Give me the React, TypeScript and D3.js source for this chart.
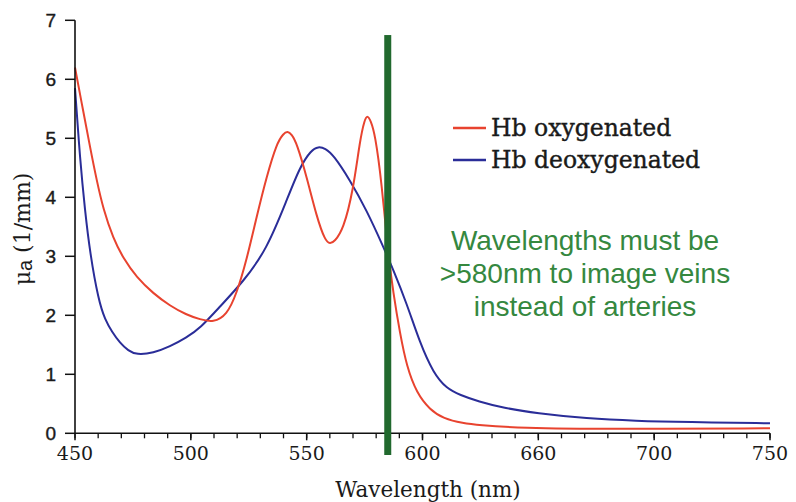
import React from "react";
import * as d3 from "d3";

const oxyWavelengths = [450, 453.6, 456.5, 459.4, 462.2, 466.5, 470.8, 476.6, 483.8, 491, 498, 504, 509.7, 515.5, 519.8, 524.1, 528.4, 532.7, 537.1, 540, 541.7, 543.5, 545.7, 550, 554.3, 558, 560.1, 562, 565.8, 570.1, 573, 575, 576.3, 577.6, 579.5, 582.4, 585, 587.4, 590.3, 593.2, 597.5, 603.2, 609, 617.6, 624, 642, 680, 750];
const oxyValues = [6.2, 5.45, 4.85, 4.28, 3.8, 3.3, 2.97, 2.64, 2.37, 2.16, 2.01, 1.93, 1.88, 2.0, 2.37, 2.94, 3.67, 4.35, 4.92, 5.08, 5.12, 5.07, 4.92, 4.35, 3.67, 3.26, 3.21, 3.25, 3.45, 4.12, 4.97, 5.32, 5.39, 5.3, 5.08, 4.24, 3.1, 2.37, 1.69, 1.13, 0.68, 0.4, 0.25, 0.17, 0.14, 0.09, 0.07, 0.085];

const deoxyWavelengths = [450, 452.2, 454.3, 456.5, 460.1, 463, 466, 469.4, 473, 476.6, 483.8, 491, 498, 504, 512.6, 522.6, 532.7, 541.4, 547.1, 552, 555, 558, 561.5, 568.7, 575.9, 583.1, 587.4, 593.2, 598.9, 604.7, 610.4, 616.2, 624.1, 635, 649, 671, 692, 714, 750];
const deoxyValues = [5.85, 4.63, 3.78, 3.05, 2.26, 1.92, 1.72, 1.53, 1.4, 1.33, 1.36, 1.47, 1.62, 1.78, 2.15, 2.57, 3.11, 3.95, 4.52, 4.8, 4.86, 4.83, 4.72, 4.29, 3.78, 3.16, 2.77, 2.2, 1.53, 1.02, 0.76, 0.65, 0.54, 0.43, 0.34, 0.25, 0.21, 0.19, 0.17];

const xTickValues = [450, 500, 550, 600, 650, 700, 750];
const xTickLabels = ["450", "500", "550", "600", "660", "700", "750"];
const yTickValues = [0, 1, 2, 3, 4, 5, 6, 7];
const seriesNames = ["Hb oxygenated", "Hb deoxygenated"];
const annotationLines = ["Wavelengths must be", ">580nm to image veins", "instead of arteries"];
const markerWavelength = 585;
const markerTopValue = 6.75;

const RED = "#e8432f";
const BLUE = "#2a2d98";
const GREEN_BAR = "#21692e";
const GREEN_TEXT = "#35883f";
const INK = "#1a1a1a";

export default function App() {
  const x = d3.scaleLinear().domain([450, 750]).range([75, 770]);
  const y = d3.scaleLinear().domain([0, 7]).range([433.3, 20.3]);

  const line = d3
    .line<[number, number]>()
    .x((d) => x(d[0]))
    .y((d) => y(d[1]))
    .curve(d3.curveBasis);

  const oxy = oxyWavelengths.map((w, i) => [w, oxyValues[i]] as [number, number]);
  const deoxy = deoxyWavelengths.map((w, i) => [w, deoxyValues[i]] as [number, number]);

  const minorTicks = d3.range(450, 751, 10);
  const y0 = y(0);

  return (
    <svg width={796} height={502} style={{ position: "absolute", left: 0, top: 0, background: "#fff" }}>
      <rect x={0} y={0} width={796} height={502} fill="#fff" />
      <path d={line(deoxy) || ""} fill="none" stroke={BLUE} strokeWidth={2} />
      <path d={line(oxy) || ""} fill="none" stroke={RED} strokeWidth={2} />

      <line x1={x(450)} x2={x(450)} y1={y(7)} y2={y0} stroke="#111" strokeWidth={1.6} />
      <line x1={x(450)} x2={x(750)} y1={y0} y2={y0} stroke="#111" strokeWidth={1.6} />
      {yTickValues.map((v) => (
        <g key={"y" + v}>
          <line x1={x(450) - 10} x2={x(450)} y1={y(v)} y2={y(v)} stroke="#111" strokeWidth={1.5} />
          <text x={x(450) - 19} y={y(v)} dy="0.36em" textAnchor="end" fontFamily="Liberation Sans, Arial, sans-serif" fontSize={19} fill={INK} stroke={INK} strokeWidth={0.4}>
            {v}
          </text>
        </g>
      ))}
      {minorTicks.map((v) => (
        <line key={"m" + v} x1={x(v)} x2={x(v)} y1={y0} y2={y0 + 5} stroke="#111" strokeWidth={1.3} />
      ))}
      {xTickValues.map((v, i) => (
        <g key={"x" + v}>
          <line x1={x(v)} x2={x(v)} y1={y0} y2={y0 + 7} stroke="#111" strokeWidth={1.5} />
          <text x={x(v)} y={460} textAnchor="middle" fontFamily="DejaVu Serif, serif" fontSize={19} fill={INK}>
            {xTickLabels[i]}
          </text>
        </g>
      ))}

      <text x={428} y={497} textAnchor="middle" fontFamily="DejaVu Serif, serif" fontSize={21.5} fill={INK}>
        Wavelength (nm)
      </text>
      <text transform="translate(30,229) rotate(-90)" textAnchor="middle" fontFamily="DejaVu Serif, serif" fontSize={22} fill={INK}>
        μ<tspan fontFamily="Liberation Sans, Arial, sans-serif" fontSize={20} dy={2}>a</tspan>
        <tspan dy={-2}> (1/mm)</tspan>
      </text>

      <rect x={x(markerWavelength) - 3.5} y={y(markerTopValue)} width={7} height={455 - y(markerTopValue)} fill={GREEN_BAR} />

      {seriesNames.map((name, i) => (
        <g key={name}>
          <line x1={453} x2={486} y1={128 + i * 32} y2={128 + i * 32} stroke={i === 0 ? RED : BLUE} strokeWidth={2.5} />
          <text x={491} y={128 + i * 32} dy="0.35em" fontFamily="DejaVu Serif, serif" fontSize={23.5} fill={INK} stroke={INK} strokeWidth={0.4}>
            {name}
          </text>
        </g>
      ))}

      {annotationLines.map((t, i) => (
        <text key={t} x={585} y={240 + i * 33} dy="0.35em" textAnchor="middle" fontFamily="Liberation Sans, Arial, sans-serif" fontSize={28} fill={GREEN_TEXT}>
          {t}
        </text>
      ))}
    </svg>
  );
}
